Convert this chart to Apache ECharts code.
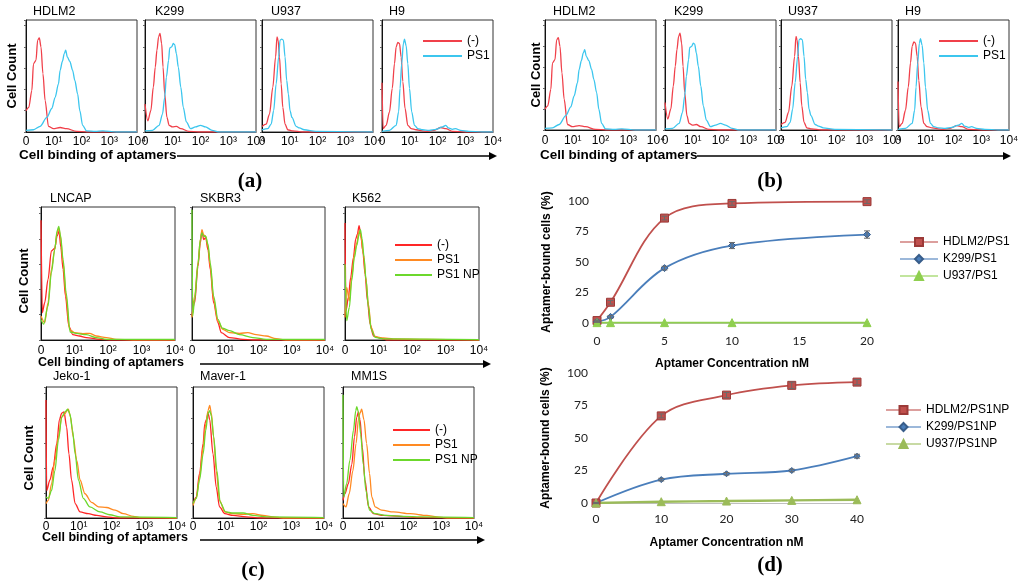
<!DOCTYPE html>
<html>
<head>
<meta charset="utf-8">
<title>Aptamer binding</title>
<style>
html,body{margin:0;padding:0;background:#fff;}
#main{width:1024px;height:583px;}
</style>
</head>
<body>
<div id="main"></div>
<script src="https://cdn.jsdelivr.net/npm/echarts@6/dist/echarts.min.js"></script>
<script>
// tick labels of the flow histograms (decades of intensity)
var histTicks = ['0', '10\u00b9', '10\u00b2', '10\u00b3', '10\u2074'];

// (a)/(b) histograms: [decade, % of panel height]
var hdlm2Neg = [[0,19],[0.1,22],[0.21,37],[0.27,61],[0.36,64],[0.42,82],[0.48,84],[0.54,76],[0.61,52],[0.69,28],[0.81,5],[0.99,3],[1.23,4],[1.46,3],[1.82,0.6],[2.2,0],[4,0]];
var hdlm2PS1 = [[0,1.5],[0.27,2],[0.51,5],[0.75,13],[0.93,21],[1.05,31],[1.17,43],[1.23,55],[1.31,63],[1.38,70],[1.43,73],[1.49,67],[1.58,63],[1.68,55],[1.76,46],[1.86,34],[1.94,19],[2.04,6],[2.18,1],[2.5,0.5],[2.77,1],[3.25,0],[4,0]];
var k299Neg = [[0,25],[0.1,10],[0.21,19],[0.3,40],[0.37,58],[0.43,73],[0.49,85],[0.54,88],[0.6,79],[0.65,58],[0.71,34],[0.79,13],[0.87,6],[0.99,4.5],[1.13,5],[1.29,3],[1.58,0.6],[1.94,0],[4,0]];
var k299PS1 = [[0,1],[0.27,1.5],[0.51,6],[0.63,16],[0.71,31],[0.77,49],[0.85,64],[0.89,75],[0.96,76],[1.02,79],[1.07,78],[1.13,70],[1.2,58],[1.29,40],[1.38,22],[1.49,9],[1.64,3],[1.82,4.5],[2,6],[2.18,4.5],[2.42,1.5],[2.65,0],[4,0]];
var u937Neg = [[0,5],[0.15,7],[0.27,16],[0.39,40],[0.49,67],[0.54,85],[0.58,82],[0.63,67],[0.69,43],[0.75,22],[0.83,7],[0.93,2],[1.11,1],[1.46,0],[4,0]];
var u937PS1 = [[0,2],[0.21,3],[0.33,7],[0.42,19],[0.51,43],[0.6,67],[0.65,82],[0.71,83],[0.77,82],[0.83,67],[0.89,46],[0.95,34],[1.01,19],[1.08,13],[1.23,5],[1.35,3.6],[1.52,2],[1.94,0.6],[4,0]];
var h9Neg = [[0,44],[0.04,3],[0.15,6],[0.27,18],[0.37,39],[0.45,61],[0.51,76],[0.57,80],[0.63,79],[0.69,67],[0.75,45],[0.83,21],[0.93,6],[1.05,3],[1.23,2],[1.58,0.6],[1.88,1.5],[2.12,4],[2.3,3],[2.54,0.6],[3,0],[4,0]];
var h9PS1 = [[0,0.6],[0.27,1.5],[0.51,6],[0.6,18],[0.65,39],[0.71,61],[0.77,79],[0.81,83],[0.87,77],[0.93,61],[0.99,39],[1.07,18],[1.17,6],[1.29,3],[1.46,2],[1.7,1.5],[1.94,2.4],[2.18,4.5],[2.3,6],[2.39,3.6],[2.54,2.4],[2.65,3],[2.83,1.5],[3.13,0.6],[3.61,0],[4,0]];

// (c) histograms
var lncapNeg = [[0,90],[0.04,20.5],[0.11,28],[0.21,45.5],[0.31,67],[0.41,69],[0.48,78],[0.54,82],[0.59,70],[0.66,53],[0.73,33],[0.83,10.5],[0.95,4],[1.15,3],[1.35,1.8],[1.75,0.5],[2.04,0],[4,0]];
var lncapPS1 = [[0,18],[0.11,13],[0.21,28],[0.31,53],[0.41,68],[0.48,80.5],[0.53,84],[0.58,78],[0.66,58],[0.75,33],[0.85,8],[1.0,5.5],[1.25,4.8],[1.45,5],[1.65,3],[1.95,1.8],[2.24,0.5],[2.74,0],[4,0]];
var lncapNP = [[0,15.5],[0.08,12],[0.21,25.5],[0.31,50.5],[0.41,68],[0.48,82],[0.53,85.5],[0.58,79],[0.66,60.5],[0.75,35.5],[0.87,6],[1.05,5],[1.35,4],[1.65,1.8],[1.95,0.5],[4,0.5]];
var skbr3Neg = [[0,18],[0.08,28],[0.18,55.5],[0.25,73],[0.3,82],[0.35,75.5],[0.41,77],[0.48,68],[0.55,53],[0.65,28],[0.78,13],[0.88,5.5],[1.13,1.8],[1.53,0.5],[1.83,0],[4,0]];
var skbr3PS1 = [[0,17],[0.08,33],[0.18,58],[0.25,75.5],[0.3,83],[0.35,79],[0.41,78],[0.48,70.5],[0.55,55.5],[0.65,30.5],[0.78,14],[0.93,8],[1.13,5.5],[1.43,5],[1.68,5.5],[1.93,4],[2.23,3],[2.53,1],[2.83,0],[4,0]];
var skbr3NP = [[0,98],[0.02,18],[0.08,30.5],[0.18,57],[0.25,75.5],[0.3,80.5],[0.35,78],[0.41,78],[0.48,72],[0.55,58],[0.65,33],[0.78,15.5],[0.91,9],[1.13,7],[1.43,4],[1.83,1.8],[2.23,0.5],[4,0.5]];
var k562Neg = [[0,88],[0.03,22],[0.1,32],[0.17,47],[0.25,62],[0.32,76],[0.37,79.5],[0.42,86],[0.47,79.5],[0.53,67],[0.6,49.5],[0.67,29.5],[0.75,12],[0.85,3],[1.04,1.5],[1.24,0],[4,0]];
var k562PS1 = [[0,17],[0.05,39.5],[0.13,29.5],[0.2,47],[0.28,64.5],[0.35,73],[0.42,82],[0.48,77],[0.55,64.5],[0.62,47],[0.7,27],[0.78,9.5],[0.9,2.5],[1.14,1.5],[1.44,0.8],[2.44,0.5],[4,0]];
var k562NP = [[0,57],[0.05,14.5],[0.13,24.5],[0.2,44.5],[0.28,62],[0.35,71],[0.42,79.5],[0.46,83],[0.51,76],[0.57,62],[0.63,44.5],[0.7,24.5],[0.78,8],[0.9,2],[1.14,0.8],[4,0.3]];
var jekoNeg = [[0,90],[0.02,21],[0.12,29],[0.22,39],[0.33,57],[0.41,75],[0.48,80],[0.55,81],[0.63,69.5],[0.7,49],[0.78,29],[0.89,11],[1.04,4.6],[1.29,3.3],[1.55,2],[1.85,0.8],[2.16,0],[4,0]];
var jekoPS1 = [[0,11],[0.07,13.5],[0.17,26],[0.27,44],[0.38,62],[0.48,77],[0.58,79.5],[0.63,81.5],[0.68,83],[0.75,77],[0.83,62],[0.94,44],[1.04,29],[1.19,18.5],[1.39,12],[1.6,8.5],[1.85,8],[2.11,6],[2.36,3.3],[2.67,1.3],[2.87,0.3],[4,0]];
var jekoNP = [[0,16],[0.07,15],[0.17,21],[0.27,36],[0.38,59.5],[0.48,77],[0.58,81],[0.66,83],[0.73,79.5],[0.81,67],[0.89,49],[0.99,29],[1.14,15],[1.34,8.5],[1.65,4.6],[1.95,2.5],[2.26,0.8],[4,0.3]];
var maverNeg = [[0,11],[0.1,16],[0.2,34],[0.31,57],[0.36,72],[0.41,75],[0.46,80],[0.51,75],[0.61,49],[0.71,23.5],[0.81,8.5],[0.97,3.3],[1.22,2],[1.63,0.8],[2.04,0],[4,0]];
var maverPS1 = [[0,9.5],[0.1,15],[0.2,31],[0.31,54],[0.39,72],[0.46,82],[0.51,86],[0.56,80],[0.63,62],[0.71,36],[0.81,13.5],[0.97,4.6],[1.22,3.3],[1.53,2.8],[1.83,3.3],[2.14,2],[2.44,0.8],[2.75,0],[4,0]];
var maverNP = [[0,11],[0.1,15],[0.2,29],[0.31,49],[0.39,67],[0.46,80],[0.51,82],[0.56,78],[0.63,62],[0.73,36],[0.83,12],[1.0,4.6],[1.22,3.8],[1.53,3.8],[1.83,2],[2.24,0.8],[4,0.3]];
var mm1sNeg = [[0,13.5],[0.06,18.5],[0.16,26],[0.27,41],[0.35,62],[0.42,77],[0.47,81],[0.52,75],[0.59,54],[0.67,29],[0.78,8.5],[0.93,3.3],[1.23,2],[1.74,1.3],[2.26,0.3],[4,0]];
var mm1sPS1 = [[0,11],[0.09,8.5],[0.19,18.5],[0.3,36],[0.4,57],[0.47,75],[0.52,80],[0.57,83],[0.64,75],[0.72,57],[0.81,34],[0.88,16],[0.98,8.5],[1.18,6],[1.54,4.6],[2.05,3.3],[2.56,2],[2.87,0.8],[3.17,0],[4,0]];
var mm1sNP = [[0,94],[0.02,16],[0.11,26],[0.21,44],[0.32,67],[0.39,82],[0.42,85],[0.47,81],[0.54,64],[0.62,41],[0.7,21],[0.81,6],[0.98,3.3],[1.34,2],[1.85,1.3],[2.36,0.8],[4,0.3]];

// (d) binding curves
var ps1Conc = [0, 1, 5, 10, 20];
var ps1Hdlm2 = [2, 17, 86, 98, 99.5];
var ps1Hdlm2Err = [0.5, 1.5, 1.5, 1.5, 1.5];
var ps1K299 = [1, 5, 45, 63.5, 72.5];
var ps1K299Err = [0.5, 1, 1.5, 2.5, 3];
var ps1U937 = [0.3, 0.3, 0.3, 0.3, 0.3];

var npConc = [0, 10, 20, 30, 40];
var npHdlm2 = [0, 67, 83, 90.5, 93];
var npHdlm2Err = [0.5, 1.5, 2, 2.5, 2];
var npK299 = [0, 18, 22.5, 25, 36];
var npK299Err = [0.3, 1, 1, 1, 1.5];
var npU937 = [0, 1, 1.5, 2, 2.5];

var A_RED = '#f0404a', A_CYAN = '#3cc6ee';
var C_RED = '#ff2626', C_ORANGE = '#ff8a22', C_GREEN = '#6cd82c';
var SANS = '"Liberation Sans", Arial, sans-serif';
var cLegendLabels = { cNeg: '(-)', cPS1: 'PS1', cNP: 'PS1 NP' };

var panels = [
  // (a)
  { l: 26, t: 20, w: 111, h: 112, m: 4, title: 'HDLM2', tx: 33, ty: 12, curves: [[hdlm2Neg, '(-)', A_RED], [hdlm2PS1, 'PS1', A_CYAN]] },
  { l: 145, t: 20, w: 111, h: 112, m: 4, title: 'K299', tx: 155, ty: 12, curves: [[k299Neg, '(-)', A_RED], [k299PS1, 'PS1', A_CYAN]] },
  { l: 262, t: 20, w: 111, h: 112, m: 4, title: 'U937', tx: 271, ty: 12, curves: [[u937Neg, '(-)', A_RED], [u937PS1, 'PS1', A_CYAN]] },
  { l: 382, t: 20, w: 111, h: 112, m: 4, title: 'H9', tx: 389, ty: 12, curves: [[h9Neg, '(-)', A_RED], [h9PS1, 'PS1', A_CYAN]] },
  // (b)
  { l: 545, t: 20, w: 111, h: 110, m: 5, title: 'HDLM2', tx: 553, ty: 12, curves: [[hdlm2Neg, '(-)', A_RED], [hdlm2PS1, 'PS1', A_CYAN]] },
  { l: 665, t: 20, w: 111, h: 110, m: 5, title: 'K299', tx: 674, ty: 12, curves: [[k299Neg, '(-)', A_RED], [k299PS1, 'PS1', A_CYAN]] },
  { l: 781, t: 20, w: 111, h: 110, m: 5, title: 'U937', tx: 788, ty: 12, curves: [[u937Neg, '(-)', A_RED], [u937PS1, 'PS1', A_CYAN]] },
  { l: 898, t: 20, w: 111, h: 110, m: 5, title: 'H9', tx: 905, ty: 12, curves: [[h9Neg, '(-)', A_RED], [h9PS1, 'PS1', A_CYAN]] },
  // (c) row 1
  { l: 41, t: 207, w: 134, h: 133, m: 5, title: 'LNCAP', tx: 50, ty: 199, curves: [[lncapNeg, 'cNeg', C_RED], [lncapPS1, 'cPS1', C_ORANGE], [lncapNP, 'cNP', C_GREEN]] },
  { l: 192, t: 207, w: 133, h: 133, m: 5, title: 'SKBR3', tx: 200, ty: 199, curves: [[skbr3Neg, 'cNeg', C_RED], [skbr3PS1, 'cPS1', C_ORANGE], [skbr3NP, 'cNP', C_GREEN]] },
  { l: 345, t: 207, w: 134, h: 133, m: 5, title: 'K562', tx: 352, ty: 199, curves: [[k562Neg, 'cNeg', C_RED], [k562PS1, 'cPS1', C_ORANGE], [k562NP, 'cNP', C_GREEN]] },
  // (c) row 2
  { l: 46, t: 387, w: 131, h: 131, m: 3, title: 'Jeko-1', tx: 53, ty: 377, curves: [[jekoNeg, 'cNeg', C_RED], [jekoPS1, 'cPS1', C_ORANGE], [jekoNP, 'cNP', C_GREEN]] },
  { l: 193, t: 387, w: 131, h: 131, m: 3, title: 'Maver-1', tx: 200, ty: 377, curves: [[maverNeg, 'cNeg', C_RED], [maverPS1, 'cPS1', C_ORANGE], [maverNP, 'cNP', C_GREEN]] },
  { l: 343, t: 387, w: 131, h: 131, m: 3, title: 'MM1S', tx: 351, ty: 377, curves: [[mm1sNeg, 'cNeg', C_RED], [mm1sPS1, 'cPS1', C_ORANGE], [mm1sNP, 'cNP', C_GREEN]] }
];

var grids = [], xAxes = [], yAxes = [], series = [], graphics = [];

function txt(x, y, s, font, rot, align) {
  graphics.push({ type: 'text', x: x, y: y, rotation: rot || 0, silent: true,
    style: { text: s, font: font, fill: '#000', align: align || 'left', verticalAlign: 'middle' } });
}
function arrow(x1, x2, y) {
  graphics.push({ type: 'line', silent: true, shape: { x1: x1, y1: y, x2: x2 - 6, y2: y }, style: { stroke: '#000', lineWidth: 1.6 } });
  graphics.push({ type: 'polygon', silent: true, shape: { points: [[x2 - 8, y - 4], [x2, y], [x2 - 8, y + 4]] }, style: { fill: '#000' } });
}

panels.forEach(function (p, i) {
  grids.push({ left: p.l, top: p.t, width: p.w, height: p.h, show: true, borderColor: '#333', borderWidth: 1, outerBoundsMode: 'none' });
  xAxes.push({ gridIndex: i, type: 'value', min: 0, max: 4, interval: 1,
    axisLine: { lineStyle: { color: '#111' } }, axisTick: { show: false }, splitLine: { show: false },
    axisLabel: { formatter: function (v) { return histTicks[Math.round(v)]; }, fontSize: 12, color: '#000', margin: p.m, fontFamily: SANS } });
  yAxes.push({ gridIndex: i, type: 'value', min: 0, max: 100, interval: 19,
    axisLine: { lineStyle: { color: '#111' } }, axisTick: { length: 2, lineStyle: { color: '#666' } },
    axisLabel: { show: false }, splitLine: { show: false } });
  p.curves.forEach(function (c) {
    series.push({ type: 'line', name: c[1], xAxisIndex: i, yAxisIndex: i, data: c[0],
      symbol: 'none', showSymbol: false, smooth: 0.3, smoothMonotone: 'x', silent: true,
      lineStyle: { width: 1.3, color: c[2] }, itemStyle: { color: c[2] } });
  });
  txt(p.tx, p.ty, p.title, '12.5px ' + SANS);
});

// (d) binding plots
var D_RED = '#c0504d', D_BLUE = '#4a7ebb', D_GREEN1 = '#8fcf4f', D_GREEN2 = '#9bbb59';
var dGrids = [
  { left: 597, top: 201, width: 270, height: 122 },
  { left: 596, top: 373, width: 261, height: 130 }
];
var dX = [{ max: 20, interval: 5, m: 12, gap: 35 }, { max: 40, interval: 10, m: 10, gap: 34 }];
dGrids.forEach(function (g, k) {
  grids.push({ left: g.left, top: g.top, width: g.width, height: g.height, outerBoundsMode: 'none' });
  xAxes.push({ gridIndex: panels.length + k, type: 'value', min: 0, max: dX[k].max, interval: dX[k].interval,
    axisLine: { lineStyle: { color: '#bfbfbf' } }, axisTick: { show: false }, splitLine: { show: false },
    axisLabel: { fontSize: 12, color: '#222', margin: dX[k].m, fontFamily: 'Lato, sans-serif' },
    name: 'Aptamer Concentration nM', nameLocation: 'middle', nameGap: dX[k].gap,
    nameTextStyle: { fontSize: 12, fontWeight: 'bold', fontFamily: SANS, color: '#000' } });
  yAxes.push({ gridIndex: panels.length + k, type: 'value', min: 0, max: 100, interval: 25,
    axisLine: { show: false }, axisTick: { show: false }, splitLine: { show: false },
    axisLabel: { fontSize: 12, color: '#222', margin: 8, fontFamily: 'Lato, sans-serif' },
    name: 'Aptamer-bound cells (%)', nameLocation: 'middle', nameGap: 44,
    nameTextStyle: { fontSize: 12, fontWeight: 'bold', fontFamily: SANS, color: '#000' } });
});

function pairs(xs, ys) { return xs.map(function (x, i) { return [x, ys[i]]; }); }
function bars(xs, ys, es) { return xs.map(function (x, i) { return [x, ys[i] - es[i], ys[i] + es[i]]; }); }

function errorBars(params, api) {
  var hi = api.coord([api.value(0), api.value(2)]);
  var lo = api.coord([api.value(0), api.value(1)]);
  var st = { stroke: '#6b6b6b', lineWidth: 1 };
  return { type: 'group', children: [
    { type: 'line', shape: { x1: hi[0], y1: hi[1], x2: lo[0], y2: lo[1] }, style: st },
    { type: 'line', shape: { x1: hi[0] - 3, y1: hi[1], x2: hi[0] + 3, y2: hi[1] }, style: st },
    { type: 'line', shape: { x1: lo[0] - 3, y1: lo[1], x2: lo[0] + 3, y2: lo[1] }, style: st }
  ] };
}

function dLine(name, gi, data, color, symbol, size, border, width) {
  series.push({ type: 'line', name: name, xAxisIndex: gi, yAxisIndex: gi, data: data, smooth: 0.35,
    symbol: symbol, symbolSize: size, showSymbol: true, silent: true, z: 3,
    lineStyle: { width: width || 1.8, color: color },
    itemStyle: { color: color, borderColor: border, borderWidth: 1 } });
}
function dErr(gi, data) {
  series.push({ type: 'custom', name: 'err', xAxisIndex: gi, yAxisIndex: gi, data: data,
    renderItem: errorBars, encode: { x: 0, y: [1, 2] }, silent: true, z: 4 });
}

var g1 = panels.length, g2 = panels.length + 1;
dLine('HDLM2/PS1', g1, pairs(ps1Conc, ps1Hdlm2), D_RED, 'rect', 8, '#9c3a38');
dLine('K299/PS1', g1, pairs(ps1Conc, ps1K299), D_BLUE, 'diamond', 7, '#385d8a');
dLine('U937/PS1', g1, pairs(ps1Conc, ps1U937), D_GREEN1, 'triangle', 8, D_GREEN1);
dErr(g1, bars(ps1Conc, ps1Hdlm2, ps1Hdlm2Err));
dErr(g1, bars(ps1Conc, ps1K299, ps1K299Err));
dLine('HDLM2/PS1NP', g2, pairs(npConc, npHdlm2), D_RED, 'rect', 8, '#9c3a38');
dLine('K299/PS1NP', g2, pairs(npConc, npK299), D_BLUE, 'diamond', 6, '#385d8a');
dLine('U937/PS1NP', g2, pairs(npConc, npU937), D_GREEN2, 'triangle', 8, D_GREEN2, 2.4);
dErr(g2, bars(npConc, npHdlm2, npHdlm2Err));
dErr(g2, bars(npConc, npK299, npK299Err));

// labels, arrows, panel letters
txt(12.5, 76, 'Cell Count', 'bold 13px ' + SANS, Math.PI / 2, 'center');
txt(536, 75, 'Cell Count', 'bold 13px ' + SANS, Math.PI / 2, 'center');
txt(24, 281, 'Cell Count', 'bold 13px ' + SANS, Math.PI / 2, 'center');
txt(29.5, 458, 'Cell Count', 'bold 13px ' + SANS, Math.PI / 2, 'center');
txt(19, 155, 'Cell binding of aptamers', 'bold 13.5px ' + SANS);
txt(540, 155, 'Cell binding of aptamers', 'bold 13.5px ' + SANS);
txt(38, 363, 'Cell binding of aptamers', 'bold 12.5px ' + SANS);
txt(42, 538, 'Cell binding of aptamers', 'bold 12.5px ' + SANS);
arrow(177, 497, 156);
arrow(697, 1011, 156);
arrow(200, 491, 364);
arrow(200, 485, 540);
var LETTER = 'bold 21px "Liberation Serif", "Times New Roman", serif';
txt(250, 182, '(a)', LETTER, 0, 'center');
txt(770, 182, '(b)', LETTER, 0, 'center');
txt(253, 571, '(c)', LETTER, 0, 'center');
txt(770, 566, '(d)', LETTER, 0, 'center');

var legendBase = { orient: 'vertical', itemGap: 3, itemHeight: 12, selectedMode: false,
  textStyle: { fontSize: 12, fontFamily: SANS, color: '#000' } };
function legend(o) { return Object.assign({}, legendBase, o); }
// plain line keys for the histogram legends
var histKey = { icon: 'rect', itemHeight: 2, itemGap: 3 };

var option = {
  animation: false,
  backgroundColor: '#fff',
  grid: grids,
  xAxis: xAxes,
  yAxis: yAxes,
  series: series,
  graphic: graphics,
  legend: [
    legend(Object.assign({ left: 418, top: 30, itemWidth: 39, data: ['(-)', 'PS1'] }, histKey)),
    legend(Object.assign({ left: 934, top: 30, itemWidth: 39, data: ['(-)', 'PS1'] }, histKey)),
    legend(Object.assign({ left: 390, top: 234, itemWidth: 37, data: ['cNeg', 'cPS1', 'cNP'],
      formatter: function (n) { return cLegendLabels[n]; } }, histKey)),
    legend(Object.assign({ left: 388, top: 419, itemWidth: 37, data: ['cNeg', 'cPS1', 'cNP'],
      formatter: function (n) { return cLegendLabels[n]; } }, histKey)),
    legend({ left: 894, top: 231, itemWidth: 38, itemHeight: 10, itemGap: 5, data: ['HDLM2/PS1', 'K299/PS1', 'U937/PS1'], lineStyle: { opacity: 0.55 } }),
    legend({ left: 880, top: 399, itemWidth: 35, itemHeight: 10, itemGap: 5, data: ['HDLM2/PS1NP', 'K299/PS1NP', 'U937/PS1NP'], lineStyle: { opacity: 0.55 } })
  ]
};

var myChart = echarts.init(document.getElementById('main'));
myChart.setOption(option);
</script>
</body>
</html>
